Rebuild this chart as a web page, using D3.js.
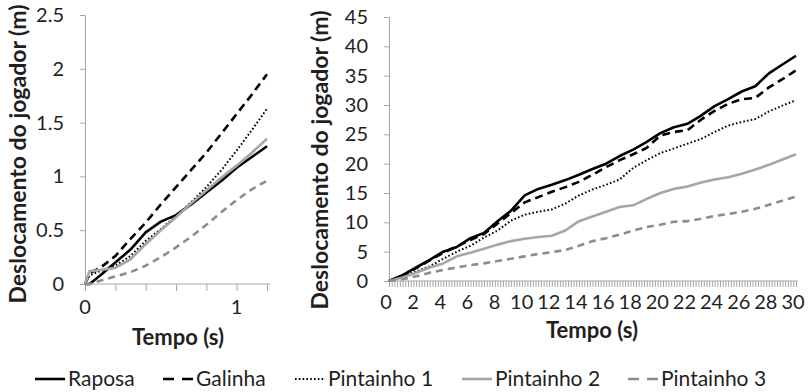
<!DOCTYPE html>
<html>
<head>
<meta charset="utf-8">
<script src="https://cdn.jsdelivr.net/npm/d3@7"></script>
<style>
  body { margin: 0; background: #fff; }
  svg { font-family: Lato, 'Liberation Sans', sans-serif; }
</style>
</head>
<body>
<svg id="chart" width="811" height="392"></svg>
<script>
// series names
const seriesNames = ['Raposa', 'Galinha', 'Pintainho 1', 'Pintainho 2', 'Pintainho 3'];

// left panel (0 - 1.2 s)
const leftTime = [0, 0.03, 0.1, 0.2, 0.3, 0.4, 0.5, 0.6, 0.7, 0.8, 0.9, 1.0, 1.1, 1.2];
const leftRaposa = [0, 0, 0.08, 0.2, 0.32, 0.48, 0.58, 0.64, 0.74, 0.85, 0.96, 1.08, 1.18, 1.28];
const leftGalinha = [0, 0.1, 0.15, 0.26, 0.42, 0.57, 0.74, 0.9, 1.06, 1.22, 1.4, 1.58, 1.76, 1.95];
const leftPint1 = [0, 0.08, 0.12, 0.17, 0.26, 0.4, 0.51, 0.63, 0.76, 0.9, 1.06, 1.24, 1.43, 1.63];
const leftPint2 = [0, 0.12, 0.13, 0.15, 0.23, 0.37, 0.5, 0.62, 0.75, 0.87, 0.99, 1.1, 1.22, 1.35];
const leftPint3 = [0, 0, 0.03, 0.07, 0.11, 0.17, 0.25, 0.34, 0.44, 0.55, 0.67, 0.78, 0.88, 0.96];
const leftYTicks = [0, 0.5, 1, 1.5, 2, 2.5];
const leftXTicks = [0, 0.2, 0.4, 0.6, 0.8, 1.0, 1.2];
const leftXLabels = [0, 1];

// right panel (0 - 30 s)
const rightTime = [0,1,2,3,4,5,6,7,8,9,10,11,12,13,14,15,16,17,18,19,20,21,22,23,24,25,26,27,28,29,30];
const rightRaposa = [0,1.0,2.3,3.6,5.0,5.8,7.3,8.2,10.2,12.0,14.6,15.7,16.4,17.2,18.1,19.1,20.0,21.3,22.4,23.7,25.2,26.2,26.8,28.2,29.8,31.0,32.3,33.2,35.4,36.9,38.4];
const rightGalinha = [0,0.9,2.2,3.5,4.8,5.9,7.0,8.0,9.8,11.6,13.4,14.3,15.2,16.0,16.9,18.1,19.4,20.6,21.6,22.7,24.8,25.4,25.7,27.5,29.0,30.2,31.0,31.2,33.0,34.4,35.9];
const rightPint1 = [0,0.8,1.6,2.5,3.8,5.0,6.0,7.4,8.6,10.3,11.3,11.8,12.2,13.2,14.6,15.6,16.4,17.3,19.3,20.6,21.8,22.6,23.4,24.2,25.4,26.5,27.1,27.6,28.9,29.9,30.8];
const rightPint2 = [0,0.6,1.4,2.3,3.0,4.2,4.8,5.5,6.2,6.8,7.2,7.5,7.7,8.6,10.2,11.0,11.8,12.6,12.9,14.0,15.0,15.7,16.1,16.8,17.3,17.7,18.3,19.0,19.8,20.7,21.6];
const rightPint3 = [0,0.3,0.8,1.4,1.9,2.3,2.7,3.0,3.4,3.8,4.2,4.6,4.9,5.3,6.0,6.8,7.3,7.9,8.6,9.2,9.6,10.1,10.2,10.6,11.1,11.4,11.8,12.3,13.0,13.7,14.4];
const rightYTicks = [0, 5, 10, 15, 20, 25, 30, 35, 40, 45];
const rightXLabels = [0,2,4,6,8,10,12,14,16,18,20,22,24,26,28,30];

const styles = [
  { color: '#000', width: 2.6, dash: null, legendDash: null },
  { color: '#000', width: 2.6, dash: '8,5', legendDash: '11,8' },
  { color: '#000', width: 2, dash: '1.6,2.2', legendDash: '1.6,2.2' },
  { color: '#a6a6a6', width: 2.6, dash: null, legendDash: null },
  { color: '#8c8c8c', width: 2.6, dash: '7,5', legendDash: '11,8' }
];

const svg = d3.select('#chart');
const axisColor = '#a6a6a6';
const textColor = '#1f1f1f';

function drawPanel(opt) {
  const x = d3.scaleLinear().domain(opt.xDomain).range(opt.xRange);
  const y = d3.scaleLinear().domain(opt.yDomain).range(opt.yRange);
  const g = svg.append('g');

  // y axis
  const yAxis = g.append('g')
    .attr('transform', 'translate(' + opt.xRange[0] + ',0)')
    .call(d3.axisLeft(y).tickValues(opt.yTicks).tickSize(5).tickPadding(opt.yPad).tickFormat(d3.format('')));
  yAxis.select('.domain').attr('stroke', axisColor);
  yAxis.selectAll('.tick line').attr('stroke', axisColor);
  yAxis.selectAll('text').attr('font-size', 20).attr('fill', textColor)
    .attr('font-family', 'Lato, sans-serif');

  // x axis ticks
  const xAxis = g.append('g')
    .attr('transform', 'translate(0,' + opt.yRange[0] + ')')
    .call(d3.axisBottom(x).tickValues(opt.xTicks).tickSize(opt.xTickSize).tickSizeOuter(0).tickFormat(''));
  xAxis.select('.domain').attr('stroke', axisColor).attr('d', 'M' + opt.xRange[0] + ',0H' + opt.axisEnd);
  xAxis.selectAll('.tick line').attr('stroke', axisColor);

  // x labels
  g.append('g').selectAll('text')
    .data(opt.xLabels)
    .join('text')
    .attr('x', d => x(d) + opt.labelDx)
    .attr('y', opt.yRange[0] + opt.labelDy)
    .attr('text-anchor', 'middle')
    .attr('font-size', 20)
    .attr('fill', textColor)
    .text(d => d);

  // lines
  const line = d3.line()
    .x((d, i) => x(opt.time[i]))
    .y(d => y(d));
  opt.series.forEach((vals, k) => {
    const s = styles[k];
    g.append('path')
      .datum(vals)
      .attr('d', line)
      .attr('fill', 'none')
      .attr('stroke', s.color)
      .attr('stroke-width', s.width)
      .attr('stroke-dasharray', s.dash)
      .attr('stroke-linejoin', 'round');
  });

  // axis titles
  g.append('text')
    .attr('transform', 'translate(' + opt.yTitleX + ',' + opt.yTitleY + ') rotate(-90)')
    .attr('text-anchor', 'middle')
    .attr('font-size', 23)
    .attr('font-weight', 'bold')
    .attr('fill', textColor)
    .text('Deslocamento do jogador (m)');
  g.append('text')
    .attr('x', opt.xTitleX)
    .attr('y', opt.xTitleY)
    .attr('text-anchor', 'middle')
    .attr('font-size', 22)
    .attr('font-weight', 'bold')
    .attr('fill', textColor)
    .text('Tempo (s)');
}

drawPanel({
  xDomain: [0, 1.2], xRange: [85, 267], axisEnd: 270,
  yDomain: [0, 2.5], yRange: [284, 15],
  yTicks: leftYTicks, xTicks: leftXTicks, xLabels: leftXLabels, xTickSize: 7,
  yPad: 16, labelDx: 0, labelDy: 30,
  time: leftTime,
  series: [leftRaposa, leftGalinha, leftPint1, leftPint2, leftPint3],
  yTitleX: 26, yTitleY: 154, xTitleX: 178, xTitleY: 345
});

drawPanel({
  xDomain: [0, 30], xRange: [389, 796], axisEnd: 798,
  yDomain: [0, 45], yRange: [281, 17],
  yTicks: rightYTicks, xTicks: d3.range(0, 150.5, 1).map(i => i * 0.2), xLabels: rightXLabels, xTickSize: 6,
  yPad: 16, labelDx: -3, labelDy: 28,
  time: rightTime,
  series: [rightRaposa, rightGalinha, rightPint1, rightPint2, rightPint3],
  yTitleX: 328, yTitleY: 160, xTitleX: 592, xTitleY: 338
});

// legend
const legendX = [35, 163, 295, 462, 628];
const legend = svg.append('g');
seriesNames.forEach((name, k) => {
  const s = styles[k];
  const lx = legendX[k];
  legend.append('line')
    .attr('x1', lx).attr('x2', lx + 30)
    .attr('y1', 379).attr('y2', 379)
    .attr('stroke', s.color)
    .attr('stroke-width', s.width)
    .attr('stroke-dasharray', s.legendDash);
  legend.append('text')
    .attr('x', lx + 33)
    .attr('y', 386)
    .attr('font-size', 21)
    .attr('fill', textColor)
    .text(name);
});
</script>
</body>
</html>
